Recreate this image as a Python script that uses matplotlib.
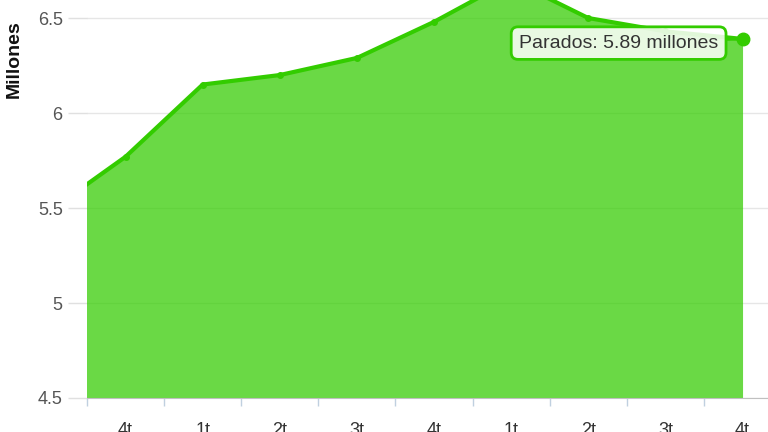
import matplotlib.pyplot as plt
import numpy as np

plt.rcParams['font.family'] = ['Liberation Sans', 'DejaVu Sans']

# quarters shown on the axis (the first point sits just left of the plot and is clipped)
quarter_labels = ["4t", "1t", "2t", "3t", "4t", "1t", "2t", "3t", "4t"]
quarter_pos = np.arange(-1, 9)
parados = [5.48, 5.77, 6.15, 6.20, 6.29, 6.48, 6.70, 6.50, 6.43, 6.39]
tooltip_text = "Parados: 5.89 millones"

green = "#33cc00"

fig = plt.figure(figsize=(7.68, 4.32), dpi=100)
ax = fig.add_axes([87 / 768, 34 / 432, 681 / 768, 398 / 432])

ax.yaxis.grid(True, color="#e6e6e6", lw=1)
ax.set_axisbelow(True)

ax.fill_between(quarter_pos, parados, 4.5, color=green, alpha=0.73, lw=0, zorder=2)
ax.plot(quarter_pos, parados, color=green, lw=3, marker="o", ms=4, zorder=3)
ax.plot(quarter_pos[-1], parados[-1], "o", color=green, ms=9, zorder=4)

ax.annotate(tooltip_text, xy=(quarter_pos[-1], parados[-1]), xytext=(-17.5, -3),
            textcoords="offset points", ha="right", va="center",
            fontsize=14, color="#333333",
            bbox=dict(boxstyle="round,pad=0.4,rounding_size=0.35",
                      fc=(1, 1, 1, 0.85), ec=green, lw=2),
            arrowprops=dict(arrowstyle="-", color=green, lw=2, shrinkA=0, shrinkB=4),
            zorder=5)

ax.set_yticks([4.5, 5, 5.5, 6, 6.5])
ax.set_yticklabels(["4.5", "5", "5.5", "6", "6.5"])
ax.tick_params(axis="y", length=14, color="#e0e0e0", width=1, pad=3.5,
               labelsize=13, labelcolor="#555555")

ax.set_xticks(range(len(quarter_labels)))
ax.set_xticklabels(quarter_labels)
ax.set_xticks(np.arange(-0.5, 9, 1), minor=True)
ax.tick_params(axis="x", which="major", length=0, pad=17, labelsize=13,
               labelcolor="#333333")
ax.tick_params(axis="x", which="minor", length=6, color="#c0d0e0", width=1)

# limits last, so the tick setters do not widen them
ax.set_xlim(-0.5, 8.33)
ax.set_ylim(4.5, 6.595)

for side in ["top", "right", "left"]:
    ax.spines[side].set_visible(False)
ax.spines["bottom"].set_color("#c0c0c0")

fig.text(14 / 768, 1 - 59 / 432, "Millones", rotation=90, ha="center", va="center",
         fontsize=14, fontweight="bold", color="#111111")

fig.savefig("out.png", dpi=100)
